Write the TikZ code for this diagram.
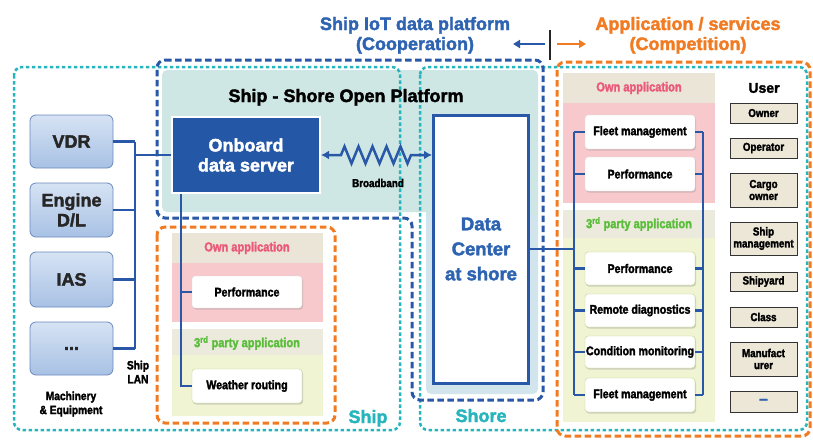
\documentclass[tikz,border=0pt]{standalone}
\usepackage{fontspec}
\setmainfont{Liberation Sans}[BoldFeatures={FakeBold=2.2}]
\newfontfamily\cf{Liberation Sans}[FakeStretch=0.85, BoldFeatures={FakeBold=2.2}]
\usetikzlibrary{decorations.pathmorphing,arrows.meta,shadows}
\definecolor{blueT}{HTML}{2E63B2}
\definecolor{blueD}{HTML}{2A58A8}
\definecolor{servF}{HTML}{2557A7}
\definecolor{cyanC}{HTML}{27B5BD}
\definecolor{orangeC}{HTML}{F07B22}
\definecolor{tealF}{HTML}{CFE7E4}
\definecolor{shoreF}{HTML}{D3E5EC}
\definecolor{beigeF}{HTML}{EBE5D7}
\definecolor{beigeG}{HTML}{ECEADC}
\definecolor{pinkF}{HTML}{F8C9CC}
\definecolor{pinkT}{HTML}{EA5A78}
\definecolor{greenT}{HTML}{5BBD3C}
\definecolor{greenB}{HTML}{B9D48A}
\definecolor{yelF}{HTML}{F1F4D2}
\definecolor{machT}{HTML}{D6E3F4}
\definecolor{machB}{HTML}{A8C1E4}
\definecolor{machD}{HTML}{6A89BF}
\definecolor{userF}{HTML}{EDE7D8}
\begin{document}
\begin{tikzpicture}[x=1pt,y=-1pt,
  big/.style={font=\fontsize{18}{20}\selectfont\bfseries},
  small/.style={font=\cf\fontsize{12}{14}\selectfont\bfseries},
  cyanD/.style={draw=cyanC, line width=2.5pt, dash pattern=on 3.5pt off 2.5pt, rounded corners=8pt},
  blueDash/.style={draw=blueD, line width=3pt, dash pattern=on 6.5pt off 3.5pt, rounded corners=8pt},
  orangeD/.style={draw=orangeC, line width=3pt, dash pattern=on 6.5pt off 3.5pt, rounded corners=8pt},
  bus/.style={draw=blueD, line width=2.2pt},
  mach/.style={draw=machD, line width=0.8pt, rounded corners=6pt, top color=machT, bottom color=machB,
    minimum width=83pt, inner sep=0pt, align=center, big, text=black!85},
  appbox/.style={draw=black!15, fill=white, rounded corners=3pt, minimum width=110pt, inner sep=0pt,
    font=\cf\fontsize{12.5}{13}\selectfont\bfseries,
    drop shadow={shadow xshift=1pt, shadow yshift=-1.5pt, opacity=0.3}},
  userbox/.style={draw=black!80, fill=userF, line width=1pt, minimum width=67pt, inner sep=0pt,
    align=center, font=\cf\fontsize{11.5}{12}\selectfont\bfseries,
    drop shadow={shadow xshift=1pt, shadow yshift=-1pt, opacity=0.4}}
]
\useasboundingbox (0,0) rectangle (813,439);

% ---------- background fills ----------
\fill[tealF, rounded corners=5pt] (162,70) -- (538,70) -- (538,212) -- (162,212) -- cycle;
\fill[shoreF, rounded corners=5pt] (426,200) -- (538,200) -- (538,394) -- (426,394) -- cycle;
\fill[tealF] (426,190) rectangle (538,215);

\fill[beigeF] (172,233) rectangle (323,263);
\fill[pinkF]  (172,263) rectangle (323,322);
\fill[beigeG] (172,329) rectangle (323,355);
\fill[yelF]   (172,355) rectangle (323,416);

\fill[beigeF] (563,73) rectangle (715,103);
\fill[pinkF]  (563,103) rectangle (715,203);
\fill[beigeG] (563,210) rectangle (715,238);
\fill[yelF]   (563,238) rectangle (715,422);

% ---------- dashed / dotted containers ----------
\draw[cyanD] (14,67) rectangle (400,430);
\draw[cyanD] (420,67) rectangle (807,430);
\draw[blueDash] (157,60) -- (543,60) -- (543,400) -- (412,400) -- (412,218) -- (157,218) -- cycle;
\draw[orangeD] (557,62) rectangle (810,436);
\draw[orangeD] (157,227) rectangle (335,423);

% ---------- titles ----------
\node[anchor=base, big, text=blueT] (t1a) at (415,30) {Ship IoT data platform};
\node[anchor=base, big, text=blueT] (t1b) at (415,50) {(Cooperation)};
\node[anchor=base, big, text=orangeC] (t2a) at (688,30) {Application / services};
\node[anchor=base, big, text=orangeC] (t2b) at (688,50) {(Competition)};
\coordinate (barT) at (550,30);
\coordinate (barB) at (550,60);
\draw[line width=2.5pt, black!85] (barT) -- (barB);
\coordinate (blA) at (545,44);
\coordinate (blB) at (513,44);
\draw[blueD, line width=2.5pt, -{Triangle[length=7pt,width=8pt]}] (blA) -- (blB);
\coordinate (orA) at (557,44);
\coordinate (orB) at (586,44);
\draw[orangeC, line width=2.5pt, -{Triangle[length=7pt,width=8pt]}] (orA) -- (orB);

\node[anchor=base, big] (platT) at (346,102) {Ship - Shore Open Platform};

% ---------- machinery ----------
\node[mach, minimum height=53pt] (VDR) at (71.5,141.5) {VDR};
\node[mach, minimum height=54pt] (ENG) at (71.5,210) {Engine\\D/L};
\node[mach, minimum height=55pt] (IAS) at (71.5,279.5) {IAS};
\node[mach, minimum height=53pt] (DOTS) at (71.5,348.5) {...};
\node[small, align=center] (machL) at (71,404) {Machinery\\\& Equipment};
\node[small, align=center] (lanL) at (138,372) {Ship\\LAN};

% ---------- servers ----------
\node[draw=white, line width=2pt, fill=servF, minimum width=148pt, minimum height=76pt, inner sep=0pt,
  text=white, big, align=center] (server) at (246,155) {Onboard\\data server};
\node[draw=blueD, line width=3pt, fill=white, minimum width=95pt, minimum height=268pt, inner sep=0pt,
  text=blueT, font=\fontsize{18.5}{25}\selectfont\bfseries, align=center] (DC) at (481,249) {Data\\Center\\at shore};

\draw[blueD, line width=2.5pt, {Latex[length=8pt,width=9pt]}-{Latex[length=8pt,width=9pt]}, decorate,
  decoration={zigzag, amplitude=8.5pt, segment length=14pt, pre length=20pt, post length=20pt}]
  (server.east) -- (server.east -| DC.west);
\node[font=\cf\fontsize{11.5}{13}\selectfont\bfseries] (bbL) at (378,183) {Broadband};

% ---------- LAN ----------
\coordinate (lanT) at (135,141.5);
\coordinate (lanB) at (135,348.5);
\draw[bus] (lanT) -- (lanB);
\draw[bus] (VDR.east) -- (VDR.east -| lanT);
\draw[bus] (ENG.east) -- (ENG.east -| lanT);
\draw[bus] (IAS.east) -- (IAS.east -| lanT);
\draw[bus] (DOTS.east) -- (DOTS.east -| lanT);
\draw[bus] (lanT |- server.west) -- (server.west);

% ---------- ship applications ----------
\node[font=\cf\fontsize{13}{14}\selectfont\bfseries, text=pinkT] (sOwnL) at (247,248) {Own application};
\node[font=\cf\fontsize{13}{14}\selectfont\bfseries, text=greenT] (s3L) at (247,343) {3\textsuperscript{rd} party application};
\node[appbox, minimum height=32pt] (sPerf) at (247,292) {Performance};
\node[appbox, draw=greenB, minimum height=34pt] (sWR) at (247,386) {Weather routing};
\coordinate (sv) at ([xshift=10pt]server.south west);
\draw[bus] (sv) |- (sWR.west);
\draw[bus] (sPerf.west -| sv) -- (sPerf.west);

\node[anchor=base, big, text=cyanC] (shipL) at (368,423) {Ship};
\node[anchor=base, big, text=cyanC] (shoreL) at (481,422) {Shore};

% ---------- shore applications ----------
\node[font=\cf\fontsize{13}{14}\selectfont\bfseries, text=pinkT] (aOwnL) at (639,88) {Own application};
\node[font=\cf\fontsize{13}{14}\selectfont\bfseries, text=greenT] (a3L) at (639,224) {3\textsuperscript{rd} party application};

\node[appbox, minimum height=34pt] (aFleet) at (640,132) {Fleet management};
\node[appbox, minimum height=34pt] (aPerf) at (640,174) {Performance};
\node[appbox, draw=greenB, minimum height=33pt] (pPerf) at (640,268.5) {Performance};
\node[appbox, draw=greenB, minimum height=33pt] (pRem) at (640,310.5) {Remote diagnostics};
\node[appbox, draw=greenB, minimum height=32pt] (pCond) at (640,352) {Condition monitoring};
\node[appbox, draw=greenB, minimum height=34pt] (pFleet) at (640,395) {Fleet management};

\coordinate (busLT) at (574,132);
\coordinate (busLB) at (574,395);
\coordinate (busRT) at (703,132);
\coordinate (busRB) at (703,395);
\draw[bus] (busLT) -- (busLB);
\draw[bus] (busRT) -- (busRB);
\foreach \b in {aFleet,aPerf,pPerf,pRem,pCond,pFleet}{
  \draw[bus] (\b.west -| busLT) -- (\b.west);
  \draw[bus] (\b.east) -- (\b.east -| busRT);
}
\draw[bus] (DC.east) -- (DC.east -| busLT);

% ---------- users ----------
\node[font=\fontsize{14}{16}\selectfont\bfseries] (userL) at (764,88) {User};
\node[userbox, minimum height=20pt] (uOwner) at (763.5,113) {Owner};
\node[userbox, minimum height=20pt] (uOper) at (763.5,148) {Operator};
\node[userbox, minimum height=34pt] (uCargo) at (763.5,190) {Cargo\\owner};
\node[userbox, minimum height=33pt] (uShip) at (763.5,238.5) {Ship\\management};
\node[userbox, minimum height=19pt] (uYard) at (763.5,281.5) {Shipyard};
\node[userbox, minimum height=20pt] (uClass) at (763.5,317) {Class};
\node[userbox, minimum height=34pt] (uManu) at (763.5,359) {Manufact\\urer};
\node[userbox, minimum height=21pt, text=blueT, font=\fontsize{16}{16}\selectfont\bfseries] (uDots) at (763.5,401.5) {--};
\end{tikzpicture}
\end{document}
